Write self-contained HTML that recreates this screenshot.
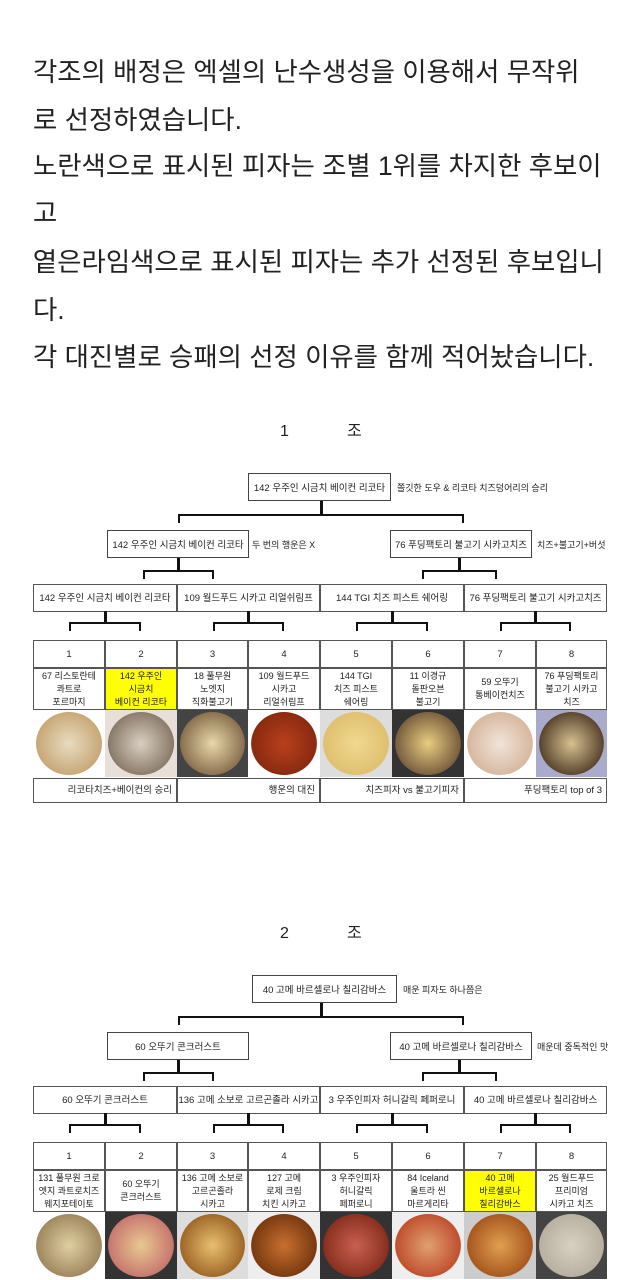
<!DOCTYPE html>
<html><head><meta charset="utf-8">
<style>
*{margin:0;padding:0;box-sizing:border-box}
body{width:640px;height:1280px;background:#fff;position:relative;overflow:hidden;font-family:"Liberation Sans","Noto Sans CJK KR","NanumGothic",sans-serif;color:#111}
.t{position:absolute;left:33px;font-size:26.4px;line-height:30px;white-space:nowrap;color:#222}
.a{position:absolute}
.box{position:absolute;border:1.5px solid #444;font-size:9.5px;display:flex;align-items:center;justify-content:center;white-space:nowrap;color:#222;background:#fff}
.lbl{position:absolute;font-size:9px;white-space:nowrap;color:#222}
.cell{position:absolute;border:1px solid #555;font-size:9.5px;line-height:15px;display:flex;align-items:center;justify-content:center;text-align:center;color:#222;background:#fff}
.pz{position:absolute;overflow:hidden}
.ttl{position:absolute;font-size:16px;line-height:20px;height:20px;color:#222}
</style></head><body>
<div class="t" style="top:57px">각조의 배정은 엑셀의 난수생성을 이용해서 무작위</div>
<div class="t" style="top:105px">로 선정하였습니다.</div>
<div class="t" style="top:151px">노란색으로 표시된 피자는 조별 1위를 차지한 후보이</div>
<div class="t" style="top:198px">고</div>
<div class="t" style="top:247px">옅은라임색으로 표시된 피자는 추가 선정된 후보입니</div>
<div class="t" style="top:295px">다.</div>
<div class="t" style="top:342px">각 대진별로 승패의 선정 이유를 함께 적어놨습니다.</div>
<div id="root"></div>
<script>
var R=document.getElementById('root'),h='';
function box(x,y,w,hh,t,cls){h+='<div class="'+(cls||'box')+'" style="left:'+x+'px;top:'+y+'px;width:'+w+'px;height:'+hh+'px">'+t+'</div>';}
function lbl(x,y,t){h+='<div class="lbl" style="left:'+x+'px;top:'+y+'px">'+t+'</div>';}
function br(x1,x2,y,top){
 var c=(x1+x2)/2;
 h+='<div class="a" style="left:'+x1+'px;top:'+y+'px;width:'+(x2-x1)+'px;height:9px;border:2.5px solid #111;border-bottom:none"></div>';
 h+='<div class="a" style="left:'+(c-1.5)+'px;top:'+top+'px;width:3px;height:'+(y-top+2)+'px;background:#111"></div>';
}
var cols=[];for(var i=0;i<=8;i++)cols.push(Math.round(33+i*71.8));
var pc=[
 ['#e8dcc0','#c8a878','#9aa898','#fff'],['#d8cfc0','#8b7b6b','#3a3a3a','#e8e0d8'],['#e8d8a8','#8a7050','#222','#444'],['#b8401c','#8a2a10','#f4ece8','#fff'],
 ['#f0d890','#e0c070','#d8c8a8','#ddd'],['#e8cc80','#7a6040','#1a1a1a','#333'],['#f0e4d8','#d8b8a0','#fff','#fff'],['#d8c090','#5a4630','#f0f0f0','#aac']
];
var pc2=[
 ['#e0d0a0','#a08860','#eee','#fff'],['#e8c890','#c87870','#222','#333'],['#e8c070','#a06828','#f4f0e8','#ddd'],['#c87030','#7a3a10','#f4f0e8','#eee'],
 ['#c86050','#8a3020','#222','#333'],['#e0a070','#c05030','#f4f4f4','#eee'],['#e0a050','#a85820','#f0e8e0','#ccc'],['#d8d0c0','#b8b0a0','#333','#444']
];
function group(oy,title,top,tc,l2,r2,lc,rc,r3,names,hl,cmt,cols8){
 h+='<div class="ttl" style="left:280px;top:'+(oy-10)+'px">'+title+'</div><div class="ttl" style="left:347px;top:'+(oy-10)+'px">조</div>';
 box(top[0],oy+41,top[1],28,top[2]);lbl(top[0]+top[1]+6,oy+49,tc);
 br(178,464,oy+82,oy+69);
 box(107,oy+98,142,28,l2);lbl(252,oy+106,lc);
 box(390,oy+98,142,28,r2);lbl(537,oy+106,rc);
 br(143,214,oy+138,oy+126);br(422,497,oy+138,oy+126);
 for(var i=0;i<4;i++)box(cols[2*i],oy+152,cols[2*i+2]-cols[2*i],28,r3[i],'cell');
 for(var i=0;i<4;i++)br(cols[2*i]+36,cols[2*i+2]-36,oy+190,oy+179);
 for(var i=0;i<8;i++){
  var x=cols[i],w=cols[i+1]-cols[i];
  box(x,oy+208,w,28,String(i+1),'cell');
  h+='<div class="cell" style="left:'+x+'px;top:'+(oy+236)+'px;width:'+w+'px;height:42px;font-size:9px;line-height:13px;'+(i==hl?'background:#ffff00;':'')+'">'+names[i]+'</div>';
  var p=cols8[i];
  h+='<div class="pz" style="left:'+x+'px;top:'+(oy+278)+'px;width:'+w+'px;height:67px;background:'+p[3]+'"><div class="a" style="left:3px;top:2px;width:'+(w-6)+'px;height:63px;border-radius:50%;background:radial-gradient(circle,'+p[0]+' 0%,'+p[1]+' 70%,'+p[2]+' 80%,'+p[3]+' 100%)"></div></div>';
 }
 if(cmt){
  var cx=[[cols[0],cols[2],'리코타치즈+베이컨의 승리'],[cols[2],cols[4],'행운의 대진'],[cols[4],cols[6],'치즈피자 vs 불고기피자'],[cols[6],cols[8],'푸딩팩토리 top of 3']];
  for(var i=0;i<4;i++)h+='<div class="cell" style="left:'+cx[i][0]+'px;top:'+(oy+346)+'px;width:'+(cx[i][1]-cx[i][0])+'px;height:25px;justify-content:flex-end;padding-right:4px">'+cx[i][2]+'</div>';
 }
}
group(432,'1',[248,143,'142 우주인 시금치 베이컨 리코타'],'쫄깃한 도우 &amp; 리코타 치즈덩어리의 승리',
 '142 우주인 시금치 베이컨 리코타','76 푸딩팩토리 불고기 시카고치즈','두 번의 행운은 X','치즈+불고기+버섯',
 ['142 우주인 시금치 베이컨 리코타','109 월드푸드 시카고 리얼쉬림프','144 TGI 치즈 피스트 쉐어링','76 푸딩팩토리 불고기 시카고치즈'],
 ['67 리스토란테<br>콰트로<br>포르마지','142 우주인<br>시금치<br>베이컨 리코타','18 풀무원<br>노엣지<br>직화불고기','109 월드푸드<br>시카고<br>리얼쉬림프','144 TGI<br>치즈 피스트<br>쉐어링','11 이경규<br>돌판오븐<br>불고기','59 오뚜기<br>통베이컨치즈','76 푸딩팩토리<br>불고기 시카고<br>치즈'],
 1,true,pc);
group(934,'2',[252,145,'40 고메 바르셀로나 칠리감바스'],'매운 피자도 하나쯤은',
 '60 오뚜기 콘크러스트','40 고메 바르셀로나 칠리감바스','','매운데 중독적인 맛',
 ['60 오뚜기 콘크러스트','136 고메 소보로 고르곤졸라 시카고','3 우주인피자 허니갈릭 페퍼로니','40 고메 바르셀로나 칠리감바스'],
 ['131 풀무원 크로<br>엣지 콰트로치즈<br>웨지포테이토','60 오뚜기<br>콘크러스트','136 고메 소보로<br>고르곤졸라<br>시카고','127 고메<br>로제 크림<br>치킨 시카고','3 우주인피자<br>허니갈릭<br>페퍼로니','84 Iceland<br>울트라 씬<br>마르게리타','40 고메<br>바르셀로나<br>칠리감바스','25 월드푸드<br>프리미엄<br>시카고 치즈'],
 6,false,pc2);
R.innerHTML=h;
</script>
</body></html>
